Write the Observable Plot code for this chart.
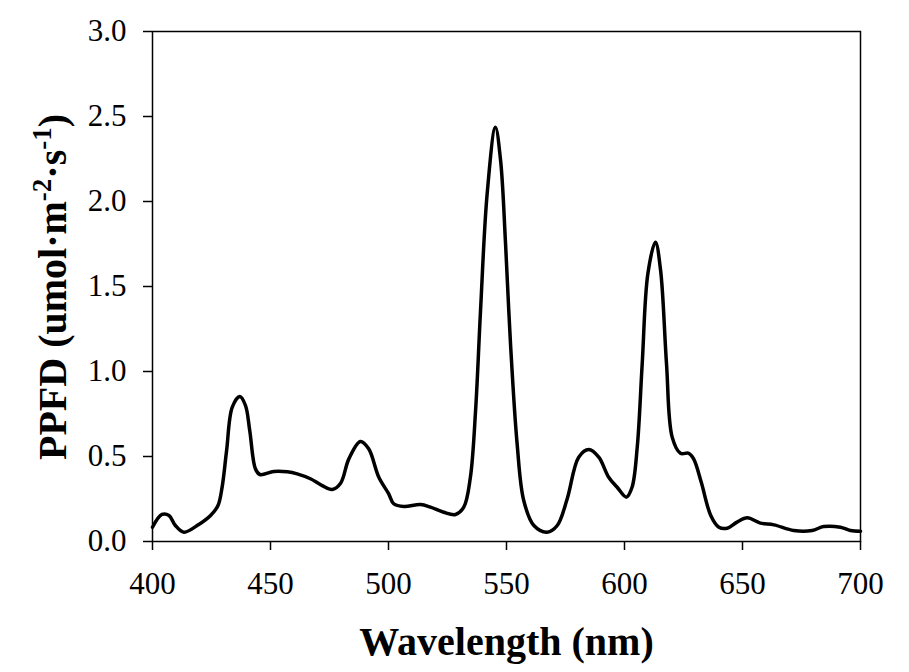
<!DOCTYPE html>
<html>
<head>
<meta charset="utf-8">
<script src="https://cdn.jsdelivr.net/npm/d3@7"></script>
<script src="https://cdn.jsdelivr.net/npm/@observablehq/plot@0.6"></script>
<style>
  html, body { margin: 0; padding: 0; background: #fff; }
</style>
</head>
<body>
<div id="chart"></div>
<script>
const wavelength = [400, 404, 407, 409.7, 413.3, 419.6, 424.6, 427.7, 429.5, 431.4, 433.8, 437, 439.4, 441.2, 443.6, 445.5,
  451.4, 457.1, 461.3, 466.9, 471.9, 476.1, 479.7, 483.2, 488.1, 491.6, 495.9, 500.1, 502.2, 506.5, 513.6, 517.8,
  523.4, 528.4, 531.9, 534.7, 536.9, 539, 541.8, 545.3, 547.5, 549.6, 551.7, 554.5, 557.3, 561.6, 567.2, 571.5,
  575.7, 580.6, 584.9, 589.1, 593.3, 596.9, 600.8, 603.2, 605.4, 607.5, 609.9, 613.1, 615.3, 617.8, 620.2, 623.7,
  627.2, 629.3, 632.5, 636.5, 640, 643.5, 647.7, 652, 657.6, 663.3, 671.7, 679.5, 684.4, 691.5, 695.7, 700];
const ppfd = [0.084, 0.159, 0.153, 0.094, 0.055, 0.100, 0.153, 0.210, 0.320, 0.535, 0.790, 0.853, 0.800, 0.653, 0.428, 0.394,
  0.412, 0.410, 0.398, 0.369, 0.329, 0.306, 0.343, 0.486, 0.588, 0.545, 0.378, 0.280, 0.222, 0.206, 0.218, 0.202,
  0.172, 0.159, 0.202, 0.378, 0.771, 1.359, 2.045, 2.437, 2.241, 1.751, 1.163, 0.575, 0.241, 0.094, 0.055, 0.094,
  0.250, 0.496, 0.541, 0.496, 0.378, 0.319, 0.261, 0.319, 0.555, 1.045, 1.575, 1.761, 1.594, 1.045, 0.614, 0.519,
  0.519, 0.486, 0.350, 0.155, 0.084, 0.078, 0.114, 0.139, 0.108, 0.098, 0.065, 0.065, 0.088, 0.084, 0.065, 0.061];
const xTicks = [400, 450, 500, 550, 600, 650, 700];
const yTicks = [0, 0.5, 1.0, 1.5, 2.0, 2.5, 3.0];
const xTitle = "Wavelength (nm)";

const data = wavelength.map((w, i) => ({w, v: ppfd[i]}));

const plot = Plot.plot({
  width: 909,
  height: 672,
  marginLeft: 152,
  marginRight: 49,
  marginTop: 31,
  marginBottom: 131,
  style: {fontFamily: "'Liberation Serif', 'Times New Roman', serif", fontSize: "31px", color: "#000", background: "#fff"},
  x: {domain: [400, 700]},
  y: {domain: [0, 3]},
  marks: [
    Plot.frame({stroke: "#000", strokeWidth: 1.5}),
    Plot.axisX({ticks: xTicks, tickSize: 9, tickPadding: 21, tickFormat: d => String(d), label: null, fontSize: 31, strokeWidth: 1.5}),
    Plot.axisY({ticks: yTicks, tickSize: 9, tickPadding: 17, tickFormat: d3.format(".1f"), label: null, fontSize: 31, strokeWidth: 1.5}),
    Plot.line(data, {x: "w", y: "v", stroke: "#000", strokeWidth: 3.5, curve: "catmull-rom"}),
    Plot.text([xTitle], {frameAnchor: "bottom", lineAnchor: "middle", dy: 101, fontSize: 40, fontWeight: "bold", fill: "#000"})
  ]
});

// y-axis title with superscripts
const svg = d3.select(plot);
const t = svg.append("text")
  .attr("transform", "translate(66,287) rotate(-90)")
  .attr("text-anchor", "middle")
  .attr("font-family", "'Liberation Serif', 'Times New Roman', serif")
  .attr("font-size", 40)
  .attr("font-weight", "bold")
  .attr("fill", "#000");
t.append("tspan").text("PPFD (umol\u00b7m");
t.append("tspan").attr("dy", -15).attr("font-size", 27).text("-2");
t.append("tspan").attr("dy", 15).text("\u00b7s");
t.append("tspan").attr("dy", -15).attr("font-size", 27).text("-1");
t.append("tspan").attr("dy", 15).text(")");

document.getElementById("chart").appendChild(plot);
</script>
</body>
</html>
